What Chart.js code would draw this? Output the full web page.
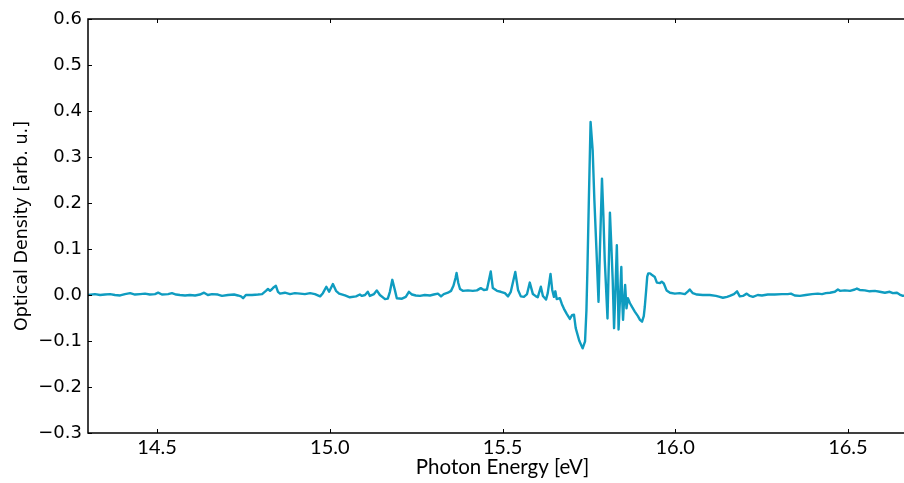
<!DOCTYPE html>
<html><head><meta charset="utf-8">
<script src="https://cdn.jsdelivr.net/npm/chart.js@4.4.1/dist/chart.umd.min.js"></script>
<style>html,body{margin:0;padding:0;overflow:hidden;background:#fff;width:904px;height:483px}canvas{display:block}</style>
</head><body>
<canvas id="c" width="920" height="483"></canvas>
<script>
const energy = [
14.300,14.320,14.335,14.349,14.364,14.378,14.393,14.407,14.422,14.436,14.451,14.465,14.479,14.494,14.503,14.514,14.532,14.543,14.555,14.566,
14.581,14.595,14.610,14.624,14.636,14.647,14.659,14.676,14.688,14.705,14.723,14.734,14.743,14.749,14.757,14.775,14.792,14.804,14.815,14.821,
14.827,14.833,14.838,14.844,14.850,14.856,14.870,14.885,14.899,14.914,14.928,14.943,14.957,14.972,14.980,14.990,14.998,15.009,15.018,15.027,
15.044,15.058,15.076,15.087,15.093,15.102,15.110,15.116,15.128,15.136,15.145,15.160,15.168,15.174,15.181,15.189,15.194,15.209,15.220,15.229,
15.238,15.249,15.261,15.275,15.290,15.301,15.313,15.322,15.330,15.342,15.351,15.358,15.364,15.367,15.372,15.377,15.385,15.400,15.414,15.426,
15.437,15.446,15.455,15.466,15.472,15.484,15.495,15.507,15.516,15.524,15.537,15.545,15.553,15.562,15.571,15.579,15.588,15.597,15.602,15.611,
15.617,15.626,15.631,15.639,15.644,15.649,15.653,15.657,15.666,15.672,15.678,15.686,15.695,15.701,15.707,15.712,15.722,15.732,15.739,15.743,
15.746,15.750,15.755,15.761,15.766,15.772,15.778,15.782,15.788,15.792,15.796,15.804,15.808,15.811,15.815,15.819,15.823,15.827,15.831,15.834,
15.836,15.840,15.844,15.846,15.849,15.852,15.855,15.859,15.863,15.869,15.875,15.883,15.892,15.898,15.904,15.909,15.912,15.916,15.919,15.922,
15.927,15.932,15.941,15.947,15.956,15.961,15.967,15.975,15.985,15.999,16.013,16.028,16.037,16.042,16.051,16.063,16.080,16.100,16.118,16.129,
16.138,16.150,16.158,16.170,16.179,16.187,16.196,16.207,16.216,16.225,16.239,16.251,16.268,16.288,16.309,16.326,16.335,16.346,16.361,16.378,
16.396,16.413,16.425,16.436,16.448,16.462,16.471,16.477,16.491,16.506,16.520,16.526,16.534,16.549,16.563,16.578,16.592,16.607,16.621,16.630,
16.642,16.650,16.659,16.673,16.694];
const density = [
0.000,0.002,0.000,0.001,0.002,0.000,-0.001,0.002,0.004,0.001,0.002,0.003,0.001,0.002,0.005,0.001,0.002,0.004,0.001,0.000,
-0.001,0.000,-0.001,0.001,0.005,0.000,0.002,0.001,-0.002,0.000,0.001,-0.001,-0.003,-0.007,0.000,0.000,0.001,0.002,0.009,0.013,
0.009,0.013,0.017,0.020,0.007,0.003,0.005,0.002,0.004,0.003,0.002,0.004,0.002,-0.003,0.004,0.018,0.007,0.024,0.009,0.003,
-0.001,-0.005,-0.003,0.001,-0.002,0.000,0.007,-0.002,0.002,0.010,0.000,-0.009,-0.008,0.007,0.033,0.009,-0.007,-0.008,-0.004,0.007,
0.001,-0.001,-0.002,0.000,-0.001,0.001,0.003,-0.003,0.002,0.005,0.009,0.020,0.037,0.048,0.026,0.013,0.009,0.010,0.009,0.010,
0.015,0.011,0.012,0.051,0.015,0.009,0.007,0.004,-0.003,0.007,0.050,0.011,-0.003,-0.004,0.002,0.027,0.002,-0.003,-0.005,0.018,
-0.002,-0.010,0.004,0.046,0.011,-0.004,0.008,-0.009,-0.007,-0.020,-0.030,-0.041,-0.052,-0.044,-0.043,-0.072,-0.099,-0.116,-0.101,-0.033,
0.061,0.206,0.376,0.315,0.206,0.098,-0.015,0.098,0.253,0.174,0.076,-0.051,0.076,0.179,0.108,0.033,-0.072,0.011,0.108,0.011,
-0.075,-0.011,0.061,0.000,-0.054,-0.011,0.022,-0.029,-0.007,-0.018,-0.026,-0.036,-0.046,-0.054,-0.058,-0.046,-0.025,0.011,0.040,0.047,
0.047,0.044,0.039,0.027,0.026,0.029,0.025,0.010,0.005,0.003,0.004,0.002,0.008,0.012,0.004,0.001,0.000,0.000,-0.002,-0.004,
-0.006,-0.004,-0.002,0.002,0.008,-0.003,-0.002,0.003,-0.002,-0.004,0.000,-0.001,0.001,0.001,0.002,0.002,0.003,-0.001,-0.002,0.000,
0.002,0.003,0.002,0.004,0.005,0.007,0.012,0.009,0.010,0.009,0.012,0.014,0.011,0.010,0.008,0.009,0.007,0.005,0.007,0.004,
0.005,0.001,-0.002,0.000,0.000];
const xTicks = [14.5, 15.0, 15.5, 16.0, 16.5];
const yTicks = [-0.3, -0.2, -0.1, 0.0, 0.1, 0.2, 0.3, 0.4, 0.5, 0.6];
const xRange = [14.3, 16.7];
const yRange = [-0.3, 0.6];

const points = energy.map((e, i) => ({x: e, y: density[i]}));

const frame = {
  id: 'frame',
  afterDatasetsDraw(chart) {
    const {ctx, chartArea: a, scales: {x, y}} = chart;
    ctx.save();
    ctx.strokeStyle = '#000';
    ctx.lineWidth = 1.5;
    ctx.strokeRect(a.left, a.top, a.right - a.left, a.bottom - a.top);
    ctx.lineWidth = 1;
    ctx.beginPath();
    xTicks.forEach(v => {
      const px = Math.round(x.getPixelForValue(v)) + 0.5;
      ctx.moveTo(px, a.bottom); ctx.lineTo(px, a.bottom - 4);
      ctx.moveTo(px, a.top); ctx.lineTo(px, a.top + 4);
    });
    yTicks.forEach(v => {
      const py = Math.round(y.getPixelForValue(v)) + 0.5;
      ctx.moveTo(a.left, py); ctx.lineTo(a.left + 4, py);
      ctx.moveTo(a.right, py); ctx.lineTo(a.right - 4, py);
    });
    ctx.stroke();
    ctx.restore();
  }
};

new Chart(document.getElementById('c'), {
  type: 'line',
  data: {datasets: [{
    data: points,
    borderColor: '#0f9cc0',
    borderWidth: 2.4,
    borderJoinStyle: 'round',
    borderCapStyle: 'round',
    pointRadius: 0,
    tension: 0,
    fill: false
  }]},
  options: {
    responsive: false,
    animation: false,
    events: [],
    layout: {padding: {left: 0, right: 3, top: 19, bottom: 0}},
    plugins: {legend: {display: false}, tooltip: {enabled: false}},
    scales: {
      x: {
        type: 'linear', min: xRange[0], max: xRange[1],
        afterBuildTicks: s => { s.ticks = xTicks.map(v => ({value: v})); },
        afterFit: s => { s.height = 50; },
        grid: {display: false, drawTicks: false},
        border: {display: false},
        ticks: {padding: 3, color: '#000', font: {family: 'Lato', size: 20}, maxRotation: 0,
          callback: v => Number(v).toFixed(1)},
        title: {display: true, text: 'Photon Energy [eV]', color: '#000',
          font: {family: 'Lato', size: 20.5}, padding: {top: 0, bottom: 3}}
      },
      y: {
        type: 'linear', min: yRange[0], max: yRange[1],
        afterBuildTicks: s => { s.ticks = yTicks.map(v => ({value: v})); },
        afterFit: s => { s.width = 88; },
        grid: {display: false, drawTicks: false},
        border: {display: false},
        ticks: {padding: 6, color: '#000', font: {family: 'DejaVu Sans', size: 18},
          callback: v => Number(v).toFixed(1).replace('-', '\u2212')},
        title: {display: true, text: 'Optical Density [arb. u.]', color: '#000',
          font: {family: 'DejaVu Sans', size: 17.5}, padding: {top: 12, bottom: 0}}
      }
    }
  },
  plugins: [frame]
});
</script>
</body></html>
